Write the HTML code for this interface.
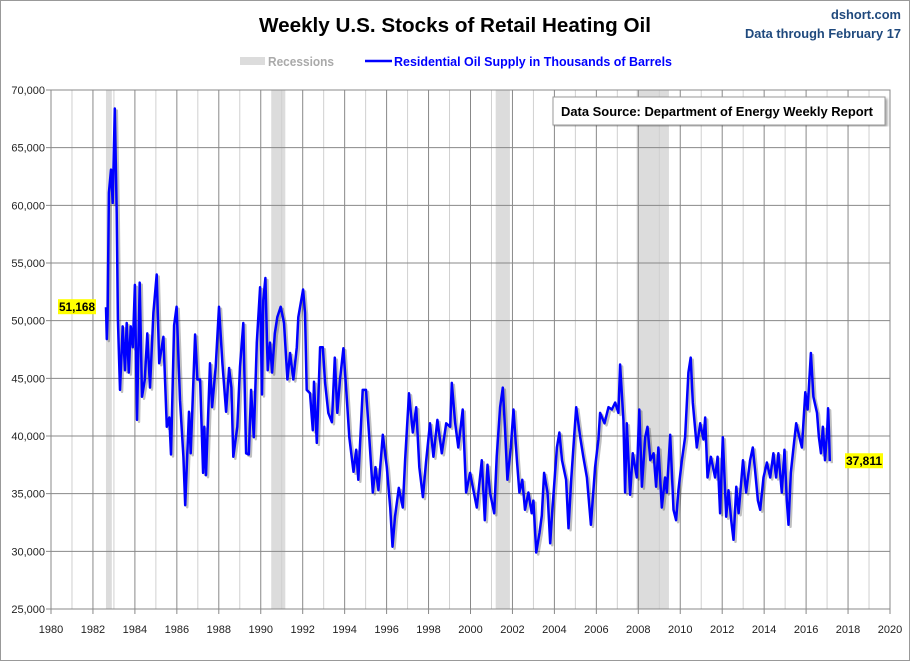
<!DOCTYPE html>
<html><head><meta charset="utf-8"><style>
html,body{margin:0;padding:0;background:#fff;}
svg{display:block;font-family:"Liberation Sans",sans-serif;}
</style></head><body>
<svg id="chart" width="910" height="661" viewBox="0 0 910 661">
<defs><filter id="sh" x="-5%" y="-5%" width="110%" height="110%"><feDropShadow dx="2" dy="2" stdDeviation="1.2" flood-color="#000" flood-opacity="0.35"/></filter></defs>
<rect x="0.5" y="0.5" width="909" height="660" fill="#fff" stroke="#999"/>
<text x="455" y="32" text-anchor="middle" font-size="20" font-weight="bold" textLength="392" lengthAdjust="spacingAndGlyphs">Weekly U.S. Stocks of Retail Heating Oil</text>
<text x="901" y="19" text-anchor="end" font-size="13" font-weight="bold" fill="#1f497d" textLength="70" lengthAdjust="spacingAndGlyphs">dshort.com</text>
<text x="901" y="38" text-anchor="end" font-size="13" font-weight="bold" fill="#1f497d" textLength="156" lengthAdjust="spacingAndGlyphs">Data through February 17</text>
<g>
<rect x="240" y="57" width="25" height="8" fill="#dcdcdc"/>
<text x="268" y="66" font-size="12.5" font-weight="bold" fill="#aaa" textLength="66" lengthAdjust="spacingAndGlyphs">Recessions</text>
<line x1="365" y1="61" x2="392" y2="61" stroke="#0000ff" stroke-width="2.5"/>
<text x="394" y="66" font-size="12.5" font-weight="bold" fill="#0000ff" textLength="278" lengthAdjust="spacingAndGlyphs">Residential Oil Supply in Thousands of Barrels</text>
</g>
<g id="rec"></g><g id="grid"></g><g id="ticks"></g><g id="series"></g>
<rect x="51" y="90" width="839" height="519" fill="none" stroke="#888"/>
<g filter="url(#sh)">
<rect x="553" y="97" width="332" height="28" fill="#fff" stroke="#999"/>
</g>
<text x="561" y="116" font-size="13" font-weight="bold" textLength="312" lengthAdjust="spacingAndGlyphs">Data Source: Department of Energy Weekly Report</text>
<g id="labels"></g>
</svg>
<script>
const yearTicks=[1980,1982,1984,1986,1988,1990,1992,1994,1996,1998,2000,2002,2004,2006,2008,2010,2012,2014,2016,2018,2020];
const valueTicks=[25000,30000,35000,40000,45000,50000,55000,60000,65000,70000];
const recStart=[1982.62,1990.5,2001.2,2007.92];
const recEnd=[1982.9,1991.17,2001.88,2009.46];
const years=[1982.62,1982.66,1982.70,1982.76,1982.86,1982.94,1983.04,1983.13,1983.19,1983.29,1983.42,1983.53,1983.61,1983.71,1983.80,1983.90,1984.0,1984.10,1984.23,1984.34,1984.47,1984.59,1984.72,1984.88,1985.04,1985.16,1985.36,1985.52,1985.64,1985.72,1985.87,1985.99,1986.15,1986.31,1986.40,1986.58,1986.66,1986.87,1986.98,1987.11,1987.25,1987.31,1987.39,1987.58,1987.68,1987.85,1988.01,1988.17,1988.35,1988.49,1988.60,1988.69,1988.88,1989.01,1989.17,1989.30,1989.43,1989.54,1989.67,1989.81,1989.97,1990.06,1990.12,1990.22,1990.33,1990.44,1990.54,1990.67,1990.79,1990.95,1991.11,1991.27,1991.40,1991.55,1991.72,1991.79,1992.02,1992.11,1992.19,1992.35,1992.48,1992.54,1992.67,1992.83,1992.96,1993.07,1993.22,1993.39,1993.53,1993.65,1993.78,1993.94,1994.10,1994.22,1994.42,1994.55,1994.65,1994.86,1995.02,1995.18,1995.34,1995.47,1995.61,1995.82,1996.01,1996.17,1996.28,1996.40,1996.58,1996.77,1996.88,1997.07,1997.25,1997.41,1997.56,1997.73,1997.88,1998.07,1998.23,1998.42,1998.63,1998.84,1999.03,1999.11,1999.27,1999.42,1999.63,1999.79,1999.98,2000.14,2000.30,2000.54,2000.68,2000.81,2000.93,2001.13,2001.25,2001.41,2001.54,2001.65,2001.76,2001.92,2002.05,2002.21,2002.33,2002.47,2002.60,2002.76,2002.92,2003.0,2003.13,2003.29,2003.40,2003.51,2003.67,2003.80,2003.89,2004.12,2004.24,2004.36,2004.56,2004.67,2004.80,2004.94,2005.04,2005.23,2005.38,2005.55,2005.74,2005.94,2006.10,2006.18,2006.39,2006.58,2006.74,2006.90,2007.05,2007.13,2007.29,2007.37,2007.45,2007.61,2007.74,2007.93,2008.05,2008.17,2008.33,2008.44,2008.57,2008.73,2008.85,2008.96,2009.12,2009.28,2009.36,2009.52,2009.68,2009.80,2009.91,2010.08,2010.23,2010.39,2010.50,2010.60,2010.79,2010.95,2011.11,2011.19,2011.30,2011.46,2011.66,2011.78,2011.90,2012.03,2012.19,2012.30,2012.43,2012.54,2012.67,2012.78,2012.99,2013.14,2013.33,2013.46,2013.57,2013.70,2013.81,2013.97,2014.13,2014.29,2014.44,2014.57,2014.68,2014.84,2014.97,2015.08,2015.16,2015.27,2015.40,2015.53,2015.68,2015.80,2015.96,2016.07,2016.23,2016.35,2016.52,2016.61,2016.71,2016.80,2016.90,2017.0,2017.05,2017.09,2017.13];
const values=[51168,48400,50500,61100,63100,60200,68400,59300,50100,44000,49500,45700,49800,45500,49500,47700,53100,41400,53300,43400,44900,48900,44200,50700,54000,46300,48600,40800,41600,38400,49600,51200,43100,38200,34000,42100,38500,48800,44900,44900,36800,40800,36600,46300,42500,46000,51200,46300,42100,45900,44200,38200,40800,46000,49800,38500,38400,44000,39900,48100,52900,43600,51800,53700,45700,48100,45500,48900,50300,51200,49800,44900,47200,44900,47700,50300,52700,50700,44000,43700,40500,44700,39400,47700,47700,44600,42000,41200,46800,42000,44900,47600,43400,39900,36900,38800,36200,44000,44000,39700,35100,37300,35300,40100,37300,33800,30400,33000,35500,33800,37900,43700,40300,42500,37300,34700,37700,41100,38200,41400,38500,41100,40800,44600,41100,39000,42300,35100,36800,35300,33800,37900,32700,37500,35100,33300,38200,42500,44200,40500,36200,39000,42300,37900,35100,36200,33600,35100,33300,34400,29900,31600,33100,36800,35100,30700,33300,39000,40300,37900,36200,32000,36200,39900,42500,39900,38200,36400,32300,37300,39700,42000,41100,42500,42300,42900,42000,46200,41400,35100,41100,34900,38500,36400,42300,35600,39900,40800,37900,38500,35600,39000,33800,36400,35100,40100,33600,32700,35300,37900,39900,45500,46800,42900,39000,41100,39700,41600,36400,38200,36400,38200,33300,39900,33000,35300,32700,31000,35600,33300,37900,35100,37900,39000,37000,34400,33600,36400,37700,36400,38500,36400,38500,35100,38800,34400,32300,36800,39000,41100,39900,39000,43800,42300,47200,43400,42000,39900,38500,40800,37900,40300,42400,40300,37811];
const X0=51,X1=890,Y0=609,Y1=90;
const xs=y=>X0+(y-1980)/40*(X1-X0);
const ys=v=>Y0-(v-25000)/45000*(Y0-Y1);
const NS='http://www.w3.org/2000/svg';
function mk(tag,attrs,parent){const e=document.createElementNS(NS,tag);for(const k in attrs)e.setAttribute(k,attrs[k]);document.getElementById(parent).appendChild(e);return e;}
for(let i=0;i<recStart.length;i++){
 const r=mk('rect',{x:xs(recStart[i]),y:Y1,width:xs(recEnd[i])-xs(recStart[i]),height:Y0-Y1,fill:'#dcdcdc'},'rec');
 
 
}
for(let y=1981;y<2020;y+=2){
 const l=mk('line',{x1:xs(y),x2:xs(y),y1:Y1,y2:Y0,stroke:'#d0d0d0','stroke-width':1},'grid');
 
 
}
yearTicks.forEach(t=>{
 const l=mk('line',{x1:xs(t),x2:xs(t),y1:Y1,y2:Y0+5,stroke:'#888','stroke-width':1},'grid');
 
 
 const tx=mk('text',{x:xs(t),y:633,'text-anchor':'middle','font-size':11,fill:'#222'},'ticks');
 tx.textContent=t;
 
 
});
valueTicks.forEach(t=>{
 const l=mk('line',{x1:X0-5,x2:X1,y1:ys(t),y2:ys(t),stroke:'#888','stroke-width':1},'grid');
 
 
 const tx=mk('text',{x:45,y:ys(t)+4,'text-anchor':'end','font-size':11,fill:'#222'},'ticks');
 tx.textContent=t.toLocaleString('en-US');
 
 
});
const n=Math.min(years.length,values.length);
const pts=years.slice(0,n).map((y,i)=>xs(y).toFixed(1)+','+ys(values[i]).toFixed(1)).join(' ');
const sh=mk('polyline',{points:pts,fill:'none',stroke:'#000','stroke-opacity':0.25,'stroke-width':2.5,transform:'translate(2,2)','stroke-linejoin':'round'},'series');


const pl=mk('polyline',{points:pts,fill:'none',stroke:'#0000ff','stroke-width':2.5,'stroke-linejoin':'round'},'series');


function callout(x,y,v,anchor,name){
 const txt=v.toLocaleString('en-US');
 const w=txt.length*6+2;
 const bx=anchor==='end'?x-w:x;
 const r=mk('rect',{x:bx,y:y-8,width:w,height:15,fill:'#ffff00'},'labels');
 
 
 const t=mk('text',{x:bx+1,y:y+4,'font-size':11.5,'font-weight':'bold',fill:'#000',textLength:w-2,lengthAdjust:'spacingAndGlyphs'},'labels');
 t.textContent=txt;
 
 
}
callout(96,ys(values[0]),values[0],'end','first-value-label');
callout(845,ys(values[n-1]),values[n-1],'start','last-value-label');
</script>
</body></html>
